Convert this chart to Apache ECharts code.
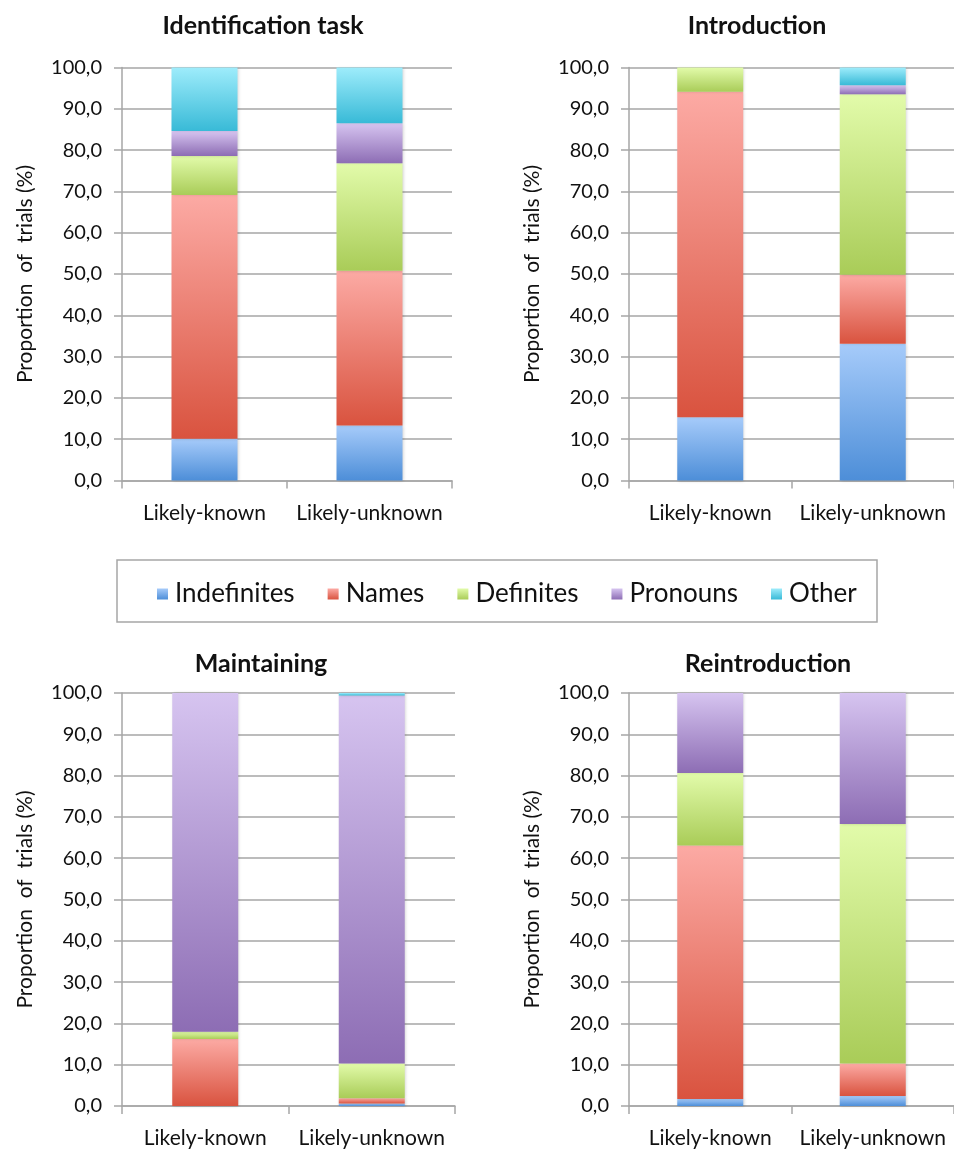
<!DOCTYPE html>
<html>
<head>
<meta charset="utf-8">
<script src="https://cdn.jsdelivr.net/npm/echarts@6/dist/echarts.min.js"></script>
<style>
  html, body { margin: 0; padding: 0; background: #fff; }
  #chart { width: 954px; height: 1150px; }
</style>
</head>
<body>
<div id="chart"></div>
<script>
// Referring expression types, proportion of trials (%) per condition
const categories = ['Likely-known', 'Likely-unknown'];
const seriesNames = ['Indefinites', 'Names', 'Definites', 'Pronouns', 'Other'];
const yTicks = [0, 10, 20, 30, 40, 50, 60, 70, 80, 90, 100];

const panelTitles = ['Identification task', 'Introduction', 'Maintaining', 'Reintroduction'];

const identIndef = [10.1, 13.3];
const identNames = [59.0, 37.5];
const identDef   = [9.5, 26.0];
const identPron  = [6.0, 9.7];
const identOther = [15.4, 13.5];

const introIndef = [15.3, 33.1];
const introNames = [78.8, 16.7];
const introDef   = [5.9, 43.7];
const introPron  = [0, 2.2];
const introOther = [0, 4.3];

const maintIndef = [0, 0.6];
const maintNames = [16.2, 1.3];
const maintDef   = [1.8, 8.4];
const maintPron  = [82.0, 89.1];
const maintOther = [0, 0.6];

const reintIndef = [1.7, 2.4];
const reintNames = [61.4, 7.9];
const reintDef   = [17.5, 58.0];
const reintPron  = [19.4, 31.7];
const reintOther = [0, 0];

const panelData = [
  [identIndef, identNames, identDef, identPron, identOther],
  [introIndef, introNames, introDef, introPron, introOther],
  [maintIndef, maintNames, maintDef, maintPron, maintOther],
  [reintIndef, reintNames, reintDef, reintPron, reintOther]
];

// light (top) -> dark (bottom) shading per type
const shades = [
  ['#a6cbfa', '#4d8ed8'],
  ['#fcaaa4', '#d9533f'],
  ['#e2fbaa', '#a9cc58'],
  ['#d6c4f0', '#8d6db4'],
  ['#9eecfb', '#38bad7']
];

const FONT = 'Lato, "Open Sans", sans-serif';
const AXIS_GREY = '#a6a6a6';

const grids = [
  { left: 122, top: 67.5, width: 330, height: 413 },
  { left: 629, top: 67.5, width: 332, height: 413 },
  { left: 122, top: 693, width: 333, height: 413 },
  { left: 629, top: 693, width: 332, height: 413 }
];

const titlePos = [
  { x: 258, y: 8 },
  { x: 752, y: 8 },
  { x: 256, y: 646 },
  { x: 763, y: 646 }
];

function grad(pair) {
  return new echarts.graphic.LinearGradient(0, 0, 0, 1, [
    { offset: 0, color: pair[0] },
    { offset: 1, color: pair[1] }
  ]);
}

const xAxes = [], yAxes = [], series = [], titles = [];
grids.forEach((g, i) => {
  xAxes.push({
    type: 'category',
    gridIndex: i,
    data: categories,
    axisLine: { lineStyle: { color: AXIS_GREY, width: 1.5 } },
    axisTick: { show: true, length: 8, lineStyle: { color: AXIS_GREY, width: 1.5 } },
    axisLabel: { color: '#111', fontSize: 21, fontFamily: FONT, margin: 22, interval: 0 }
  });
  yAxes.push({
    type: 'value',
    gridIndex: i,
    min: yTicks[0],
    max: yTicks[yTicks.length - 1],
    interval: yTicks[1] - yTicks[0],
    name: 'Proportion  of  trials (%)',
    nameLocation: 'middle',
    nameGap: 86,
    nameTextStyle: { color: '#111', fontSize: 21, fontFamily: FONT },
    axisLine: { show: true, lineStyle: { color: AXIS_GREY, width: 1.5 } },
    axisTick: { show: true, length: 8, lineStyle: { color: AXIS_GREY, width: 1.5 } },
    splitLine: { show: true, lineStyle: { color: AXIS_GREY, width: 1.5 } },
    axisLabel: {
      color: '#111', fontSize: 20, fontFamily: FONT, margin: 20,
      formatter: v => v.toFixed(1).replace('.', ',')
    }
  });
  panelData[i].forEach((vals, k) => {
    series.push({
      name: seriesNames[k],
      type: 'bar',
      stack: 'panel' + i,
      xAxisIndex: i,
      yAxisIndex: i,
      barWidth: 66,
      data: vals,
      itemStyle: {
        color: grad(shades[k]),
        shadowColor: 'rgba(0,0,0,0.18)',
        shadowBlur: 3,
        shadowOffsetX: 1
      },
      emphasis: { disabled: true },
      animation: false
    });
  });
  titles.push({
    text: panelTitles[i],
    left: titlePos[i].x,
    top: titlePos[i].y,
    textAlign: 'center',
    textStyle: { fontSize: 25, fontWeight: 'bold', color: '#111', fontFamily: FONT }
  });
});

const chart = echarts.init(document.getElementById('chart'), null, { renderer: 'canvas' });
chart.setOption({
  backgroundColor: '#fff',
  animation: false,
  title: titles,
  grid: grids,
  xAxis: xAxes,
  yAxis: yAxes,
  series: series,
  legend: {
    data: seriesNames,
    left: 152,
    top: 576,
    icon: 'rect',
    itemWidth: 11,
    itemHeight: 11,
    itemGap: 33,
    textStyle: { fontSize: 26, color: '#111', fontFamily: FONT, padding: [0, 0, 0, 2] }
  },
  graphic: [{
    type: 'rect',
    shape: { x: 117, y: 560, width: 760, height: 62 },
    style: { fill: 'none', stroke: AXIS_GREY, lineWidth: 1.5 },
    silent: true
  }]
});
</script>
</body>
</html>
